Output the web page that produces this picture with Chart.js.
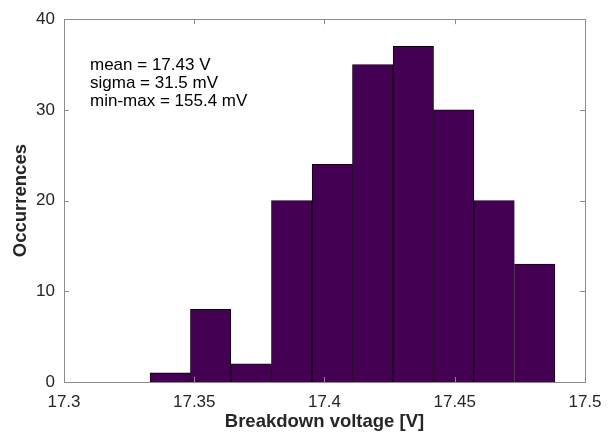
<!DOCTYPE html>
<html>
<head>
<meta charset="utf-8">
<title>Breakdown voltage histogram</title>
<script src="https://cdn.jsdelivr.net/npm/chart.js@4/dist/chart.umd.min.js"></script>
<style>
  html, body { margin: 0; padding: 0; background: #fff; }
  canvas { display: block; }
</style>
</head>
<body>
<canvas id="histChart" width="615" height="433"></canvas>
<script>
// histogram data
const binCenters = [17.3408, 17.3563, 17.3719, 17.3874, 17.4030, 17.4185, 17.4341, 17.4496, 17.4651, 17.4807];
const counts = [1, 8, 2, 20, 24, 35, 37, 30, 20, 13];
const xTicks = [17.3, 17.35, 17.4, 17.45, 17.5];
const yTicks = [0, 10, 20, 30, 40];
const statsLines = ['mean = 17.43 V', 'sigma = 31.5 mV', 'min-max = 155.4 mV'];

const FONT = "'Liberation Sans', Arial, Helvetica, sans-serif";
const TEXT_COLOR = '#262626';
const BOX_COLOR = '#8c8c8c';

// box around the plot with inward ticks on all four sides (matlab style)
const boxPlugin = {
  id: 'boxPlugin',
  afterDatasetsDraw(chart) {
    const { ctx, chartArea: a, scales } = chart;
    const tickLen = 5;
    ctx.save();
    ctx.strokeStyle = BOX_COLOR;
    ctx.lineWidth = 1;
    ctx.beginPath();
    xTicks.forEach(v => {
      const px = Math.round(scales.x.getPixelForValue(v)) + 0.5;
      ctx.moveTo(px, a.bottom); ctx.lineTo(px, a.bottom - tickLen);
      ctx.moveTo(px, a.top); ctx.lineTo(px, a.top + tickLen);
    });
    yTicks.forEach(v => {
      const py = Math.round(scales.y.getPixelForValue(v)) + 0.5;
      ctx.moveTo(a.left, py); ctx.lineTo(a.left + tickLen, py);
      ctx.moveTo(a.right, py); ctx.lineTo(a.right - tickLen, py);
    });
    ctx.stroke();
    ctx.strokeRect(Math.round(a.left) + 0.5, Math.round(a.top) + 0.5,
      Math.round(a.right - a.left), Math.round(a.bottom - a.top));
    ctx.restore();
  },
  afterDraw(chart) {
    const { ctx, chartArea: a } = chart;
    ctx.save();
    ctx.fillStyle = '#000';
    ctx.font = '17px ' + FONT;
    ctx.textBaseline = 'middle';
    ctx.textAlign = 'left';
    statsLines.forEach((line, i) => {
      ctx.fillText(line, a.left + 26, a.top + 46 + i * 18);
    });
    ctx.restore();
  }
};

const ctx = document.getElementById('histChart').getContext('2d');

new Chart(ctx, {
  type: 'bar',
  data: {
    datasets: [{
      data: binCenters.map((c, i) => ({ x: c, y: counts[i] })),
      backgroundColor: '#440154',
      borderColor: '#000000',
      borderWidth: 0.8,
      barPercentage: 1,
      categoryPercentage: 1
    }]
  },
  options: {
    responsive: false,
    animation: false,
    layout: {
      padding: { left: 0, right: 30, top: 17, bottom: 0 }
    },
    plugins: {
      legend: { display: false },
      tooltip: { enabled: false }
    },
    scales: {
      x: {
        type: 'linear',
        offset: false,
        min: 17.3,
        max: 17.5,
        afterBuildTicks: scale => { scale.ticks = xTicks.map(v => ({ value: v })); },
        afterFit: scale => { scale.height = 51; },
        grid: { display: false, drawTicks: false },
        border: { display: false },
        ticks: {
          padding: 10,
          color: TEXT_COLOR,
          font: { family: FONT, size: 17 },
          maxRotation: 0,
          callback: v => String(+v.toFixed(2))
        },
        title: {
          display: true,
          text: 'Breakdown voltage [V]',
          color: TEXT_COLOR,
          font: { family: FONT, size: 18.5, weight: 'bold' },
          padding: { top: 0, bottom: 0 }
        }
      },
      y: {
        min: 0,
        max: 40,
        afterBuildTicks: scale => { scale.ticks = yTicks.map(v => ({ value: v })); },
        afterFit: scale => { scale.width = 64; },
        grid: { display: false, drawTicks: false },
        border: { display: false },
        ticks: {
          padding: 9,
          color: TEXT_COLOR,
          font: { family: FONT, size: 17 }
        },
        title: {
          display: true,
          text: 'Occurrences',
          color: TEXT_COLOR,
          font: { family: FONT, size: 18.5, weight: 'bold' },
          padding: { top: 10, bottom: 0 }
        }
      }
    }
  },
  plugins: [boxPlugin]
});
</script>
</body>
</html>
